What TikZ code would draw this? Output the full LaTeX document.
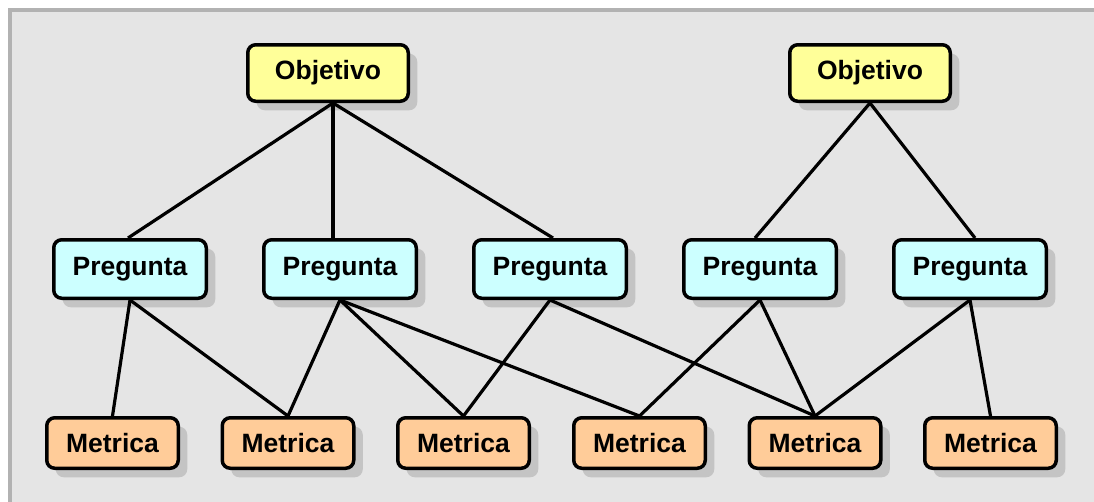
\documentclass[tikz,border=0pt]{standalone}
\usepackage{fontspec}
\setmainfont{Liberation Sans}
\usetikzlibrary{shadows}

\definecolor{panelgray}{RGB}{229,229,229}
\definecolor{panelrim}{RGB}{178,178,178}
\definecolor{shadowgray}{RGB}{196,196,196}
\definecolor{goalfill}{RGB}{255,255,153}
\definecolor{questionfill}{RGB}{204,255,255}
\definecolor{metricfill}{RGB}{255,204,153}

\tikzset{
  box/.style={draw=black, line width=3.5pt, rounded corners=8pt, inner sep=0pt,
    font=\fontsize{26.5}{30}\selectfont\bfseries,
    drop shadow={shadow xshift=9pt, shadow yshift=-9pt, fill=shadowgray, opacity=1}},
  goal/.style={box, fill=goalfill, minimum width=160.5pt, minimum height=56.5pt},
  question/.style={box, fill=questionfill, minimum width=152.5pt, minimum height=58.5pt},
  metric/.style={box, fill=metricfill, minimum width=131.5pt, minimum height=50.5pt},
  link/.style={draw=black, line width=3.2pt}
}

\begin{document}
\begin{tikzpicture}[x=1pt, y=-1pt]
  \useasboundingbox (0,0) rectangle (1094,501);
  \clip (0,0) rectangle (1094,501);
  \fill[white] (0,0) rectangle (1094,501);
  % grey panel behind the hierarchy
  \draw[draw=panelrim, fill=panelgray, line width=4pt] (10,10) rectangle (1120,530);

  % goals
  \node[goal] (g1) at (328,73) {Objetivo};
  \node[goal] (g2) at (870,73) {Objetivo};

  % questions
  \node[question] (q1) at (130,269) {Pregunta};
  \node[question] (q2) at (340,269) {Pregunta};
  \node[question] (q3) at (550,269) {Pregunta};
  \node[question] (q4) at (760,269) {Pregunta};
  \node[question] (q5) at (970,269) {Pregunta};

  % metrics
  \node[metric] (m1) at (112.5,443) {Metrica};
  \node[metric] (m2) at (288,443) {Metrica};
  \node[metric] (m3) at (463.5,443) {Metrica};
  \node[metric] (m4) at (639.5,443) {Metrica};
  \node[metric] (m5) at (815,443) {Metrica};
  \node[metric] (m6) at (990.5,443) {Metrica};

  % goal -> question
  \draw[link] ([xshift=5pt]g1.south) -- ([xshift=-2pt]q1.north);
  \draw[link] ([xshift=5pt]g1.south) -- ([xshift=-7pt]q2.north);
  \draw[link] ([xshift=5pt]g1.south) -- ([xshift=3pt]q3.north);
  \draw[link] (g2.south) -- ([xshift=-5pt]q4.north);
  \draw[link] (g2.south) -- ([xshift=5pt]q5.north);

  % question -> metric
  \foreach \a/\b in {q1/m1, q1/m2, q2/m2, q2/m3, q2/m4, q3/m3, q3/m5,
                     q4/m4, q4/m5, q5/m5, q5/m6}
    \draw[link] (\a.south) -- (\b.north);
\end{tikzpicture}
\end{document}
